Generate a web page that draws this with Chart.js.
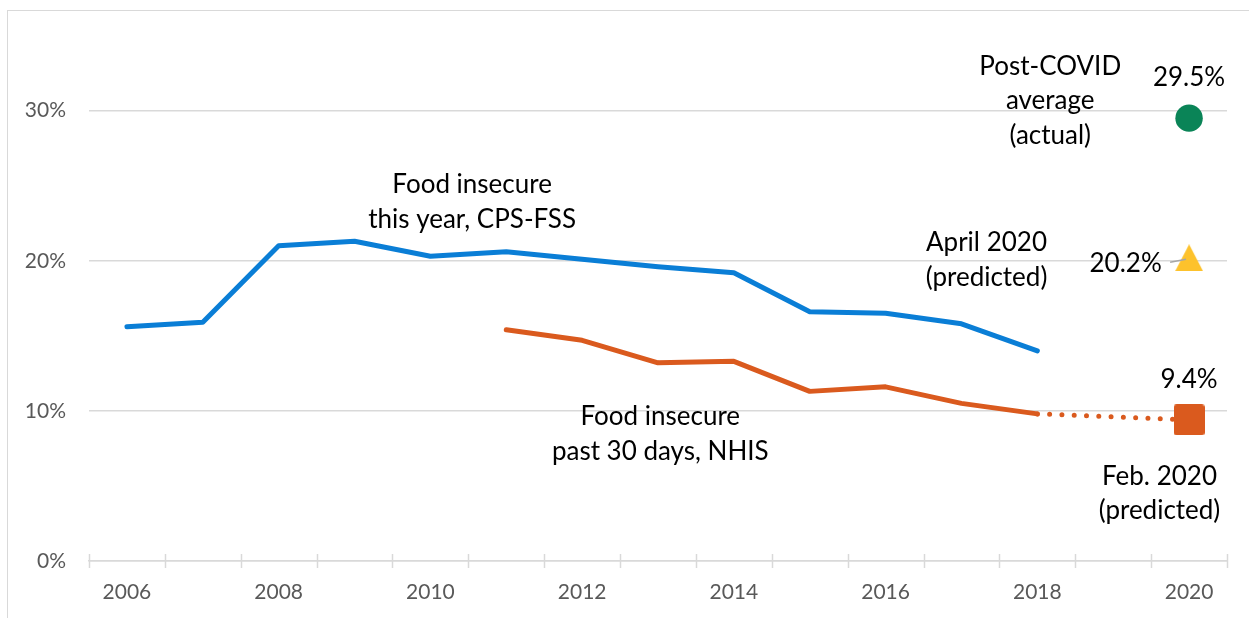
<!DOCTYPE html>
<html>
<head>
<meta charset="utf-8">
<script src="https://cdn.jsdelivr.net/npm/chart.js@4.4.1/dist/chart.umd.min.js"></script>
<style>
  html, body { margin: 0; padding: 0; background: #fff; }
  #wrap { position: relative; width: 1249px; height: 618px; overflow: hidden; }
  #frame {
    position: absolute; left: 7px; top: 10px; width: 1300px; height: 700px;
    border-left: 1.5px solid #d9d9d9; border-top: 1.5px solid #d9d9d9;
  }
  canvas { position: absolute; left: 0; top: 0; }
</style>
</head>
<body>
<div id="wrap">
  <div id="frame"></div>
  <canvas id="foodChart" width="1249" height="618"></canvas>
</div>
<script>
// Food insecurity rates, 2006-2020 (percent)
const years = ["2006", "2007", "2008", "2009", "2010", "2011", "2012", "2013",
               "2014", "2015", "2016", "2017", "2018", "2019", "2020"];
const cpsFss = [15.6, 15.9, 21.0, 21.3, 20.3, 20.6, 20.1, 19.6, 19.2, 16.6, 16.5, 15.8, 14.0, null, null];
const nhis = [null, null, null, null, null, 15.4, 14.7, 13.2, 13.3, 11.3, 11.6, 10.5, 9.8, null, null];
const nhisProjection = [null, null, null, null, null, null, null, null, null, null, null, null, 9.8, null, 9.4];
const febPredicted = [null, null, null, null, null, null, null, null, null, null, null, null, null, null, 9.4];
const aprilPredicted = [null, null, null, null, null, null, null, null, null, null, null, null, null, null, 20.2];
const postCovidActual = [null, null, null, null, null, null, null, null, null, null, null, null, null, null, 29.5];
const yTicks = [0, 10, 20, 30];

const BLUE = "#0A7ED6";
const ORANGE = "#DA5A1E";
const GREEN = "#0A8457";
const YELLOW = "#FDC22C";
const GRID = "#d9d9d9";

// marker images so they sit centred on their value like the original
function triangleImage(w, h, color) {
  const c = document.createElement("canvas");
  c.width = w; c.height = h;
  const g = c.getContext("2d");
  g.fillStyle = color;
  g.beginPath();
  g.moveTo(0, h);
  g.lineTo(w / 2, 0);
  g.lineTo(w, h);
  g.closePath();
  g.fill();
  return c;
}

function squareImage(s, r, color) {
  const c = document.createElement("canvas");
  c.width = s; c.height = s;
  const g = c.getContext("2d");
  g.fillStyle = color;
  g.beginPath();
  g.roundRect(0, 0, s, s, r);
  g.fill();
  return c;
}

// text notes: x as category index, y as value of first baseline
const notes = [
  { lines: ["Food insecure", "this year, CPS-FSS"], x: 4.55, y: 24.5, align: "center" },
  { lines: ["Food insecure", "past 30 days, NHIS"], x: 7.03, y: 9.04, align: "center" },
  { lines: ["Post-COVID", "average", "(actual)"], x: 12.17, y: 32.4, align: "center" },
  { lines: ["29.5%"], x: 14.0, y: 31.67, align: "center" },
  { lines: ["April 2020", "(predicted)"], x: 11.33, y: 20.63, align: "center" },
  { lines: ["20.2%"], x: 13.64, y: 19.26, align: "right" },
  { lines: ["9.4%"], x: 14.0, y: 11.54, align: "center" },
  { lines: ["Feb. 2020", "(predicted)"], x: 13.61, y: 5.07, align: "center" }
];

const notesPlugin = {
  id: "notes",
  afterDatasetsDraw(chart) {
    const { ctx, scales: { x, y } } = chart;
    ctx.save();

    // crossing tick marks between categories
    const y0 = y.getPixelForValue(0);
    ctx.strokeStyle = GRID;
    ctx.lineWidth = 1.5;
    for (let i = 0; i <= years.length; i++) {
      const px = Math.round(x.getPixelForValue(i - 0.5)) + 0.5;
      ctx.beginPath();
      ctx.moveTo(px, y0 - 7);
      ctx.lineTo(px, y0 + 7);
      ctx.stroke();
    }

    // small leader line next to the 20.2% label
    ctx.strokeStyle = "#a6a6a6";
    ctx.beginPath();
    ctx.moveTo(x.getPixelForValue(13.75), y.getPixelForValue(19.9));
    ctx.lineTo(x.getPixelForValue(13.96), y.getPixelForValue(20.1));
    ctx.stroke();

    ctx.fillStyle = "#000";
    ctx.font = "26px Lato";
    ctx.textBaseline = "alphabetic";
    notes.forEach(n => {
      ctx.textAlign = n.align;
      const px = x.getPixelForValue(n.x);
      const py = y.getPixelForValue(n.y);
      n.lines.forEach((line, i) => ctx.fillText(line, px, py + i * 34.5));
    });
    ctx.restore();
  }
};

const ctx = document.getElementById("foodChart").getContext("2d");

new Chart(ctx, {
  type: "line",
  data: {
    labels: years,
    datasets: [
      {
        label: "Post-COVID average (actual)",
        data: postCovidActual,
        showLine: false,
        pointStyle: "circle",
        pointRadius: 13.7,
        pointBackgroundColor: GREEN,
        pointBorderWidth: 0,
        order: 0
      },
      {
        label: "April 2020 (predicted)",
        data: aprilPredicted,
        showLine: false,
        pointStyle: triangleImage(28, 27, YELLOW),
        order: 0
      },
      {
        label: "Feb. 2020 (predicted)",
        data: febPredicted,
        showLine: false,
        pointStyle: squareImage(31, 3, ORANGE),
        order: 0
      },
      {
        label: "Food insecure this year, CPS-FSS",
        data: cpsFss,
        borderColor: BLUE,
        borderWidth: 5,
        pointRadius: 0,
        borderCapStyle: "round",
        borderJoinStyle: "round",
        order: 2
      },
      {
        label: "Food insecure past 30 days, NHIS",
        data: nhis,
        borderColor: ORANGE,
        borderWidth: 5,
        pointRadius: 0,
        borderCapStyle: "round",
        borderJoinStyle: "round",
        order: 2
      },
      {
        label: "NHIS projection",
        data: nhisProjection,
        borderColor: ORANGE,
        borderWidth: 5,
        borderDash: [0, 12.3],
        borderCapStyle: "round",
        pointRadius: 0,
        spanGaps: true,
        order: 1
      }
    ]
  },
  options: {
    responsive: false,
    animation: false,
    layout: {
      padding: { left: 0, right: 22, top: 33, bottom: 0 }
    },
    plugins: {
      legend: { display: false },
      tooltip: { enabled: false }
    },
    scales: {
      x: {
        offset: true,
        grid: { display: false, drawTicks: false },
        border: { display: true, color: GRID, width: 1.5 },
        ticks: {
          autoSkip: false,
          maxRotation: 0,
          padding: 19,
          color: "#595959",
          font: { family: "Lato", size: 21 },
          callback: function (value, index) {
            const year = years[index];
            return Number(year) % 2 === 0 ? year : "";
          }
        },
        afterFit: scale => { scale.height = 57; }
      },
      y: {
        min: 0,
        max: 35,
        afterBuildTicks: scale => {
          scale.ticks = yTicks.map(v => ({ value: v }));
        },
        grid: { color: GRID, lineWidth: 1.5, drawTicks: false },
        border: { display: false },
        ticks: {
          padding: 23,
          color: "#595959",
          font: { family: "Lato", size: 21 },
          callback: v => v + "%"
        },
        afterFit: scale => { scale.width = 89; }
      }
    }
  },
  plugins: [notesPlugin]
});
</script>
</body>
</html>
